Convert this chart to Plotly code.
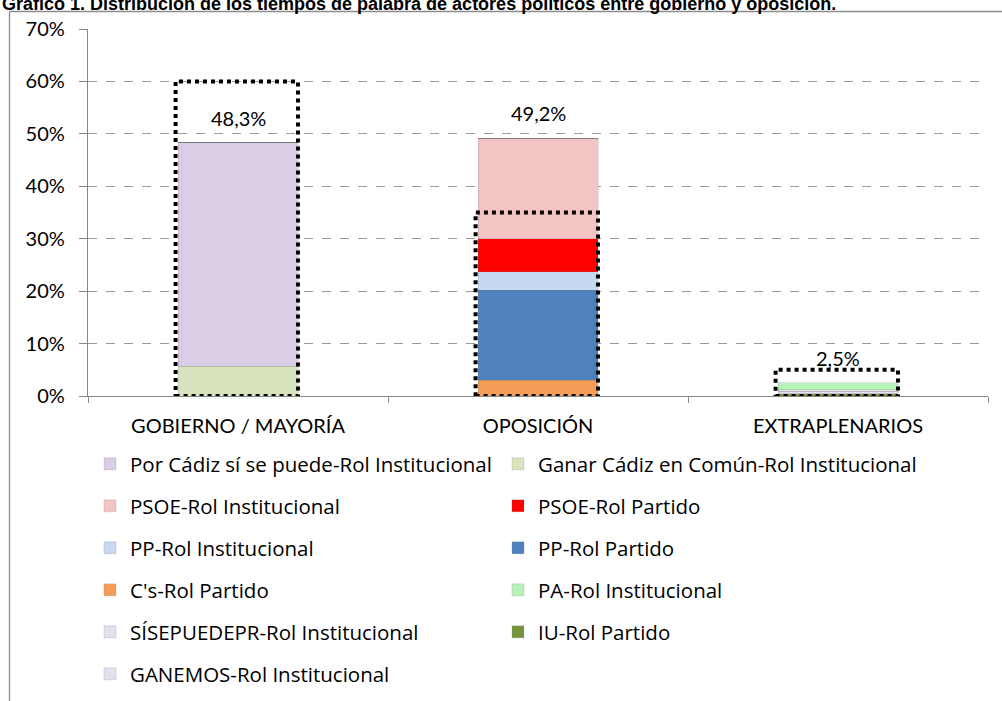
import plotly.graph_objects as go

categories = ["GOBIERNO / MAYORÍA", "OPOSICIÓN", "EXTRAPLENARIOS"]

# series in stacking order (bottom -> top), values in % per category
series_names = [
    "Ganar Cádiz en Común-Rol Institucional",
    "Por Cádiz sí se puede-Rol Institucional",
    "C's-Rol Partido",
    "PP-Rol Partido",
    "PP-Rol Institucional",
    "PSOE-Rol Partido",
    "PSOE-Rol Institucional",
    "IU-Rol Partido",
    "SÍSEPUEDEPR-Rol Institucional",
    "GANEMOS-Rol Institucional",
    "PA-Rol Institucional",
]
series_values = [
    [5.7, 0, 0],
    [42.6, 0, 0],
    [0, 3.0, 0],
    [0, 17.2, 0],
    [0, 3.5, 0],
    [0, 6.3, 0],
    [0, 19.2, 0],
    [0, 0, 0.4],
    [0, 0, 0.5],
    [0, 0, 0.3],
    [0, 0, 1.3],
]
series_colors = [
    "#D7E4BD", "#D9CEE6", "#F59D56", "#4F81BD", "#C6D9F1", "#FF0000",
    "#F2C4C4", "#77933C", "#E4DFEC", "#E6E0EE", "#B9F2B9",
]
# legend placement: (legend id, rank)
legend_slots = [
    ("legend2", 1), ("legend", 1), ("legend", 4), ("legend2", 3), ("legend", 3),
    ("legend2", 2), ("legend", 2), ("legend2", 5), ("legend", 5), ("legend", 6),
    ("legend2", 4),
]

totals = [48.3, 49.2, 2.5]
highlight_tops = [60, 35, 5]

FONT = "Lato, Carlito, Calibri, sans-serif"
LFONT = "Open Sans, Lato, sans-serif"
FS = 20
LFS = 20.5

fig = go.Figure()
for name, vals, col, (lg, rank) in zip(series_names, series_values, series_colors, legend_slots):
    fig.add_trace(go.Bar(
        x=categories, y=[v / 100 for v in vals], name=name,
        marker=dict(color=col, line=dict(color="rgba(120,120,120,0.35)", width=0.6)),
        width=0.4, legend=lg, legendrank=rank, legendgroup=name,
        hoverinfo="skip",
    ))

for i, (cat, t) in enumerate(zip(categories, totals)):
    fig.add_annotation(x=cat, y=t / 100, text=f"{t:.1f}%".replace(".", ","),
                       showarrow=False, yshift=25, font=dict(family=FONT, size=FS, color="#000"))

for i, top in enumerate(highlight_tops):
    fig.add_shape(type="rect", xref="x", yref="y",
                  x0=i - 0.208, x1=i + 0.2, y0=0, y1=top / 100,
                  line=dict(color="black", width=4, dash="dot"), layer="above")

# outer frame (top and left edges)
def px_x(p):
    return (p - 88) / 900

def px_y(p):
    return (396 - p) / 367

fig.add_shape(type="line", xref="paper", yref="paper",
              x0=px_x(9.5), x1=px_x(1002), y0=px_y(11.5), y1=px_y(11.5),
              line=dict(color="#8c8c8c", width=1.3))
fig.add_shape(type="line", xref="paper", yref="paper",
              x0=px_x(9.5), x1=px_x(9.5), y0=px_y(11.5), y1=px_y(701),
              line=dict(color="#8c8c8c", width=1.3))

fig.add_annotation(xref="paper", yref="paper", x=px_x(0), y=px_y(4),
                   xanchor="left", yanchor="middle", showarrow=False,
                   text="<b>Gráfico 1. Distribución de los tiempos de palabra de actores políticos entre gobierno y oposición.</b>",
                   font=dict(family="Liberation Sans Narrow, Arial Narrow, Liberation Sans", size=18, color="#000"))

legend_common = dict(
    orientation="v", traceorder="grouped", tracegroupgap=12.35,
    font=dict(family=LFONT, size=LFS, color="#000"),
    bgcolor="rgba(0,0,0,0)", xanchor="left", yanchor="top",
    itemclick=False, itemdoubleclick=False,
)
fig.update_layout(
    width=1002, height=701,
    margin=dict(l=88, r=14, t=29, b=305, autoexpand=False),
    paper_bgcolor="white", plot_bgcolor="white",
    barmode="stack", bargap=0.6,
    font=dict(family=FONT, size=FS, color="#000"),
    showlegend=True,
    legend=dict(**legend_common, x=px_x(90), y=px_y(444)),
    legend2=dict(**legend_common, x=px_x(498), y=px_y(444)),
    xaxis=dict(
        showline=True, linecolor="#868686", linewidth=1.3,
        ticks="outside", tickson="boundaries", ticklen=6, tickcolor="#868686",
        showgrid=False, tickfont=dict(family=FONT, size=FS, color="#000"),
        ticklabelstandoff=12, automargin=False,
    ),
    yaxis=dict(
        range=[0, 0.7], dtick=0.1, tickformat=".0%",
        showline=True, linecolor="#868686", linewidth=1.3,
        ticks="outside", ticklen=8, tickcolor="#868686",
        showgrid=True, gridcolor="#9a9a9a", griddash="dash", gridwidth=1,
        zeroline=False, tickfont=dict(family=FONT, size=FS, color="#000"),
        ticklabelstandoff=10, automargin=False,
    ),
)

fig.write_html(
    "out.html",
    config={"displayModeBar": False},
    post_script="document.body.style.margin='0';document.body.style.overflow='hidden';",
)
